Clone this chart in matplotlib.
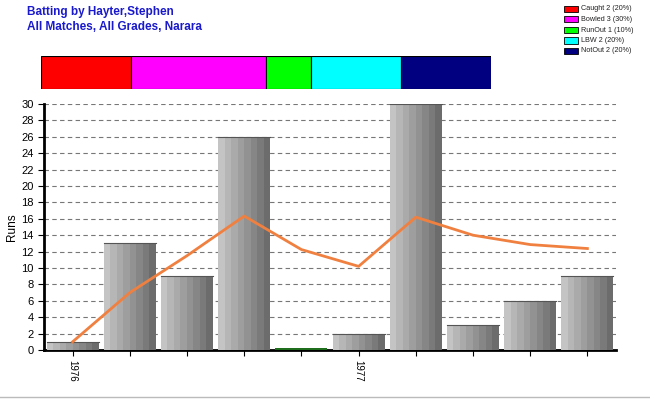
import matplotlib
matplotlib.use("Agg")
import matplotlib.pyplot as plt
from matplotlib.patches import Rectangle

# innings scores in order, and whether the batsman was not out
runs = [1, 13, 9, 26, 0, 2, 30, 3, 6, 9]
not_out = [False, False, True, False, False, False, True, False, False, False]
tick_labels = ["1976", "", "", "", "", "1977", "", "", "", ""]

dismissals = ["Caught", "Bowled", "RunOut", "LBW", "NotOut"]
dismissal_counts = [2, 3, 1, 2, 2]
dismissal_colors = ["#ff0000", "#ff00ff", "#00ff00", "#00ffff", "#000080"]

# running batting average (runs / dismissals so far)
average = []
total, outs = 0, 0
for r, n in zip(runs, not_out):
    total += r
    if not n:
        outs += 1
    average.append(total / max(outs, 1))

fig = plt.figure(figsize=(6.5, 4), dpi=100)
fig.patch.set_facecolor("white")

# titles
fig.text(27 / 650, 1 - 12 / 400, "Batting by Hayter,Stephen", color="#1a1acc",
         fontsize=8.5, fontweight="bold", va="center", family="Liberation Sans")
fig.text(27 / 650, 1 - 27 / 400, "All Matches, All Grades, Narara", color="#1a1acc",
         fontsize=8.5, fontweight="bold", va="center", family="Liberation Sans")

# legend, top right
total_d = sum(dismissal_counts)
for i, (name, cnt, col) in enumerate(zip(dismissals, dismissal_counts, dismissal_colors)):
    y = 1 - (9 + i * 10.5) / 400
    fig.patches.append(Rectangle((564 / 650, y - 3 / 400), 14 / 650, 6 / 400,
                                 facecolor=col, edgecolor="black", lw=0.6,
                                 transform=fig.transFigure, figure=fig))
    fig.text(581 / 650, y, f"{name} {cnt} ({cnt * 100 // total_d}%)", fontsize=5.2,
             va="center", color="#222222", family="Liberation Sans")

# dismissal strip
sax = fig.add_axes([41 / 650, 1 - 89 / 400, 450 / 650, 33 / 400])
left = 0
for cnt, col in zip(dismissal_counts, dismissal_colors):
    sax.barh(0, cnt, left=left, height=1, color=col, edgecolor="black", lw=0.8)
    left += cnt
sax.set_xlim(0, total_d)
sax.set_ylim(-0.5, 0.5)
sax.axis("off")

# main chart
ax = fig.add_axes([44 / 650, 50 / 400, 572 / 650, 246 / 400])
x = [i + 0.5 for i in range(len(runs))]
width = 0.91
n_stripes = 8
shades = ["#c4c4c4", "#b6b6b6", "#aaaaaa", "#9e9e9e", "#929292", "#868686", "#7a7a7a", "#6c6c6c"]
for xi, r in zip(x, runs):
    if r == 0:
        ax.bar(xi, 0.3, width=width, color="#1e6e1e", zorder=3)
        continue
    sw = width / n_stripes
    for k in range(n_stripes):
        ax.bar(xi - width / 2 + sw * (k + 0.5), r, width=sw * 1.02, color=shades[k],
               lw=0, zorder=3)
    ax.plot([xi - width / 2, xi + width / 2], [r, r], color="#555555", lw=0.8, zorder=4)

ax.plot(x, average, color="#f08040", lw=2, zorder=5)

ax.set_xlim(0, len(runs))
ax.set_ylim(0, 30)
ax.set_yticks(range(0, 31, 2))
ax.yaxis.grid(True, linestyle=(0, (4, 3)), color="#777777", lw=0.8)
ax.set_axisbelow(True)
ax.set_xticks(x)
ax.set_xticklabels(tick_labels, rotation=270, fontsize=7, family="Liberation Sans")
ax.tick_params(axis="y", labelsize=8, length=4)
ax.tick_params(axis="x", length=4)
for lab in ax.get_yticklabels():
    lab.set_family("Liberation Sans")
ax.set_ylabel("Runs", fontsize=8.5, family="Liberation Sans", labelpad=2)
for s in ["top", "right"]:
    ax.spines[s].set_visible(False)
ax.spines["left"].set_linewidth(2)
ax.spines["bottom"].set_linewidth(2)

# light border line at the bottom of the figure
fig.lines.append(plt.Line2D([0, 1], [3 / 400, 3 / 400], color="#bbbbbb", lw=1,
                            transform=fig.transFigure, figure=fig))

fig.savefig("out.png", dpi=100)
